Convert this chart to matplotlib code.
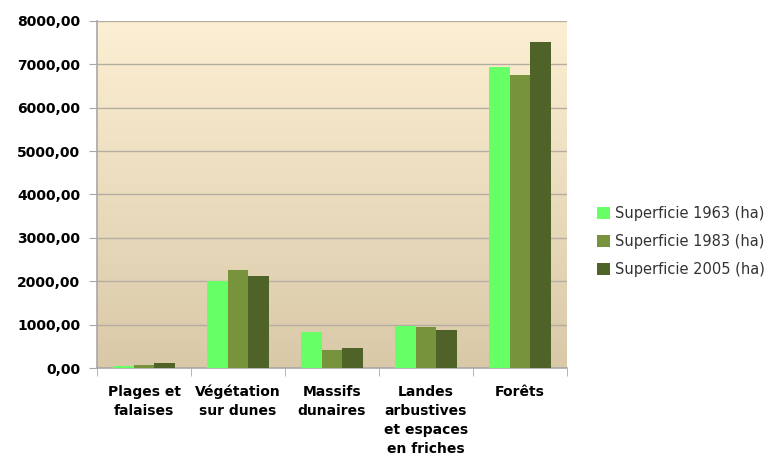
import numpy as np
import matplotlib.pyplot as plt
from matplotlib.colors import LinearSegmentedColormap
from matplotlib.ticker import FuncFormatter, FixedLocator

categories = ["Plages et\nfalaises", "Végétation\nsur dunes", "Massifs\ndunaires",
              "Landes\narbustives\net espaces\nen friches", "Forêts"]
series_names = ["Superficie 1963 (ha)", "Superficie 1983 (ha)", "Superficie 2005 (ha)"]
surf_1963 = [40, 2010, 830, 970, 6950]
surf_1983 = [70, 2260, 425, 945, 6760]
surf_2005 = [110, 2125, 460, 870, 7525]
colors = ["#66FF66", "#77933C", "#4F6228"]

fig = plt.figure(figsize=(7.78, 4.57), dpi=100)
ax = fig.add_axes([97 / 778, 1 - 368 / 457, 470 / 778, 347 / 457])

# beige gradient background
grad = LinearSegmentedColormap.from_list("bg", ["#D9C9A9", "#FDEFD3"])
ax.imshow(np.linspace(0, 1, 256).reshape(-1, 1), cmap=grad, aspect="auto",
          extent=[-0.5, 4.5, 0, 8000], origin="lower", zorder=0)

x = np.arange(len(categories))
w = 1 / 4.5
for i, (vals, name, c) in enumerate(zip([surf_1963, surf_1983, surf_2005], series_names, colors)):
    ax.bar(x + (i - 1) * w, vals, width=w, color=c, label=name, zorder=3)

ax.set_xlim(-0.5, 4.5)
ax.set_ylim(0, 8000)
ax.set_yticks(np.arange(0, 8001, 1000))
ax.yaxis.set_major_formatter(FuncFormatter(lambda v, p: f"{v:.2f}".replace(".", ",")))
ax.grid(axis="y", color="#B4ADA0", linewidth=1.0, zorder=1)

ax.set_xticks(x)
ax.set_xticklabels(categories, fontweight="bold", fontsize=10, linespacing=1.45, va="top")
ax.tick_params(axis="x", length=0, pad=12)
ax.xaxis.set_minor_locator(FixedLocator(np.arange(-0.5, 4.6, 1)))
ax.tick_params(axis="x", which="minor", length=6, color="#A8A8A8")
ax.tick_params(axis="y", length=6, color="#A8A8A8", pad=6, labelsize=10)
for lab in ax.get_yticklabels():
    lab.set_fontweight("bold")

for side in ["top", "right"]:
    ax.spines[side].set_visible(False)
for side in ["left", "bottom"]:
    ax.spines[side].set_color("#A8A8A8")
    ax.spines[side].set_linewidth(1.2)

leg = ax.legend(loc="upper left", bbox_to_anchor=(584 / 778, 1 - 193 / 457),
                bbox_transform=fig.transFigure, frameon=False, fontsize=10.5,
                handlelength=0.9, handleheight=0.9, handletextpad=0.3, labelspacing=0.9)
for t in leg.get_texts():
    t.set_color("#333333")

fig.savefig("out.png", dpi=100, facecolor="white")
